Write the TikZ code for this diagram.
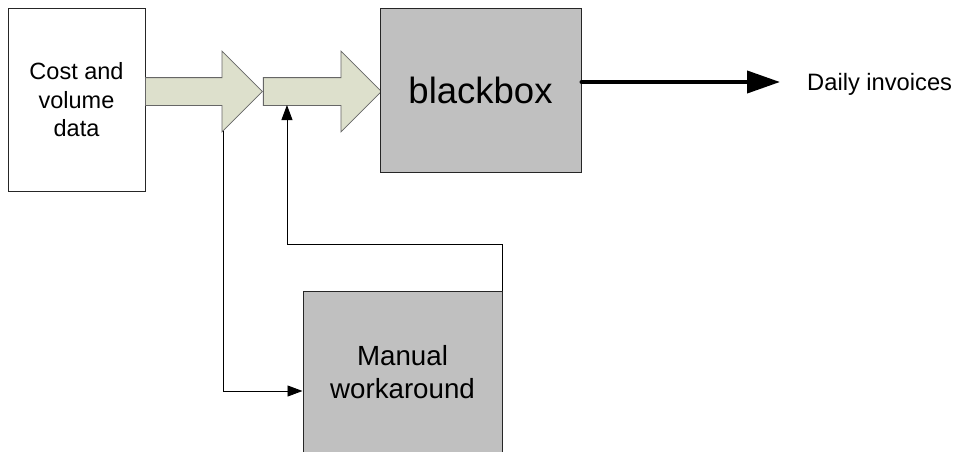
\documentclass[tikz,border=0pt]{standalone}
\usepackage{fontspec}
\setmainfont{Liberation Sans}
\usetikzlibrary{positioning,arrows.meta,shapes.arrows}
\definecolor{flowfill}{RGB}{221,224,204}
\definecolor{boxgrey}{RGB}{192,192,192}

\begin{document}
\begin{tikzpicture}[x=1pt, y=-1pt, >={Triangle[length=15pt,width=11pt]},
  box/.style={draw=black!85, line width=1pt, fill=white, align=center, inner sep=0pt},
  greybox/.style={box, fill=boxgrey, minimum width=199pt, minimum height=163pt},
  flow/.style={shape=single arrow, draw=black!60, line width=0.8pt, fill=flowfill,
    single arrow tip angle=90, single arrow head extend=26.5pt,
    minimum width=80pt, inner xsep=0pt, inner ysep=13.5pt, anchor=tail},
  link/.style={->, line width=0.9pt}]
\useasboundingbox (0,0) rectangle (955,452);
\clip (0,0) rectangle (955,452);
\node[box, minimum width=137pt, minimum height=182pt, font=\fontsize{23.5}{28.5}\selectfont] (data) at (76.5,100) {Cost and\\volume\\data};
\node[flow, minimum height=117pt] (in1) at (145,91.5) {};
\node[flow, minimum height=118pt] (in2) at (in1.tip) {};
\node[greybox, minimum width=201pt, font=\fontsize{36.5}{40}\selectfont] (bb) at (480.5,90.5) {blackbox};
\node[greybox, font=\fontsize{27.7}{33}\selectfont] (man) at (402.5,372.5) {Manual\\workaround};
\node[anchor=base west, inner sep=0pt, font=\fontsize{23.7}{28}\selectfont] (inv) at (807,90) {Daily invoices};
\draw[line width=4pt, line cap=round, -{Triangle[length=33pt,width=22pt]}, shorten >=27pt]
  ([yshift=8.5pt]bb.east) -- ([yshift=8.5pt]bb.east -| inv.west);
\draw[link] ([xshift=-40pt,yshift=-39.5pt]in1.tip) |- ([yshift=-18.5pt]man.west);
\draw[link] (man.north east) -- ++(0,-46) -| ([xshift=24pt,yshift=-13.5pt]in2.tail);
\end{tikzpicture}
\end{document}
